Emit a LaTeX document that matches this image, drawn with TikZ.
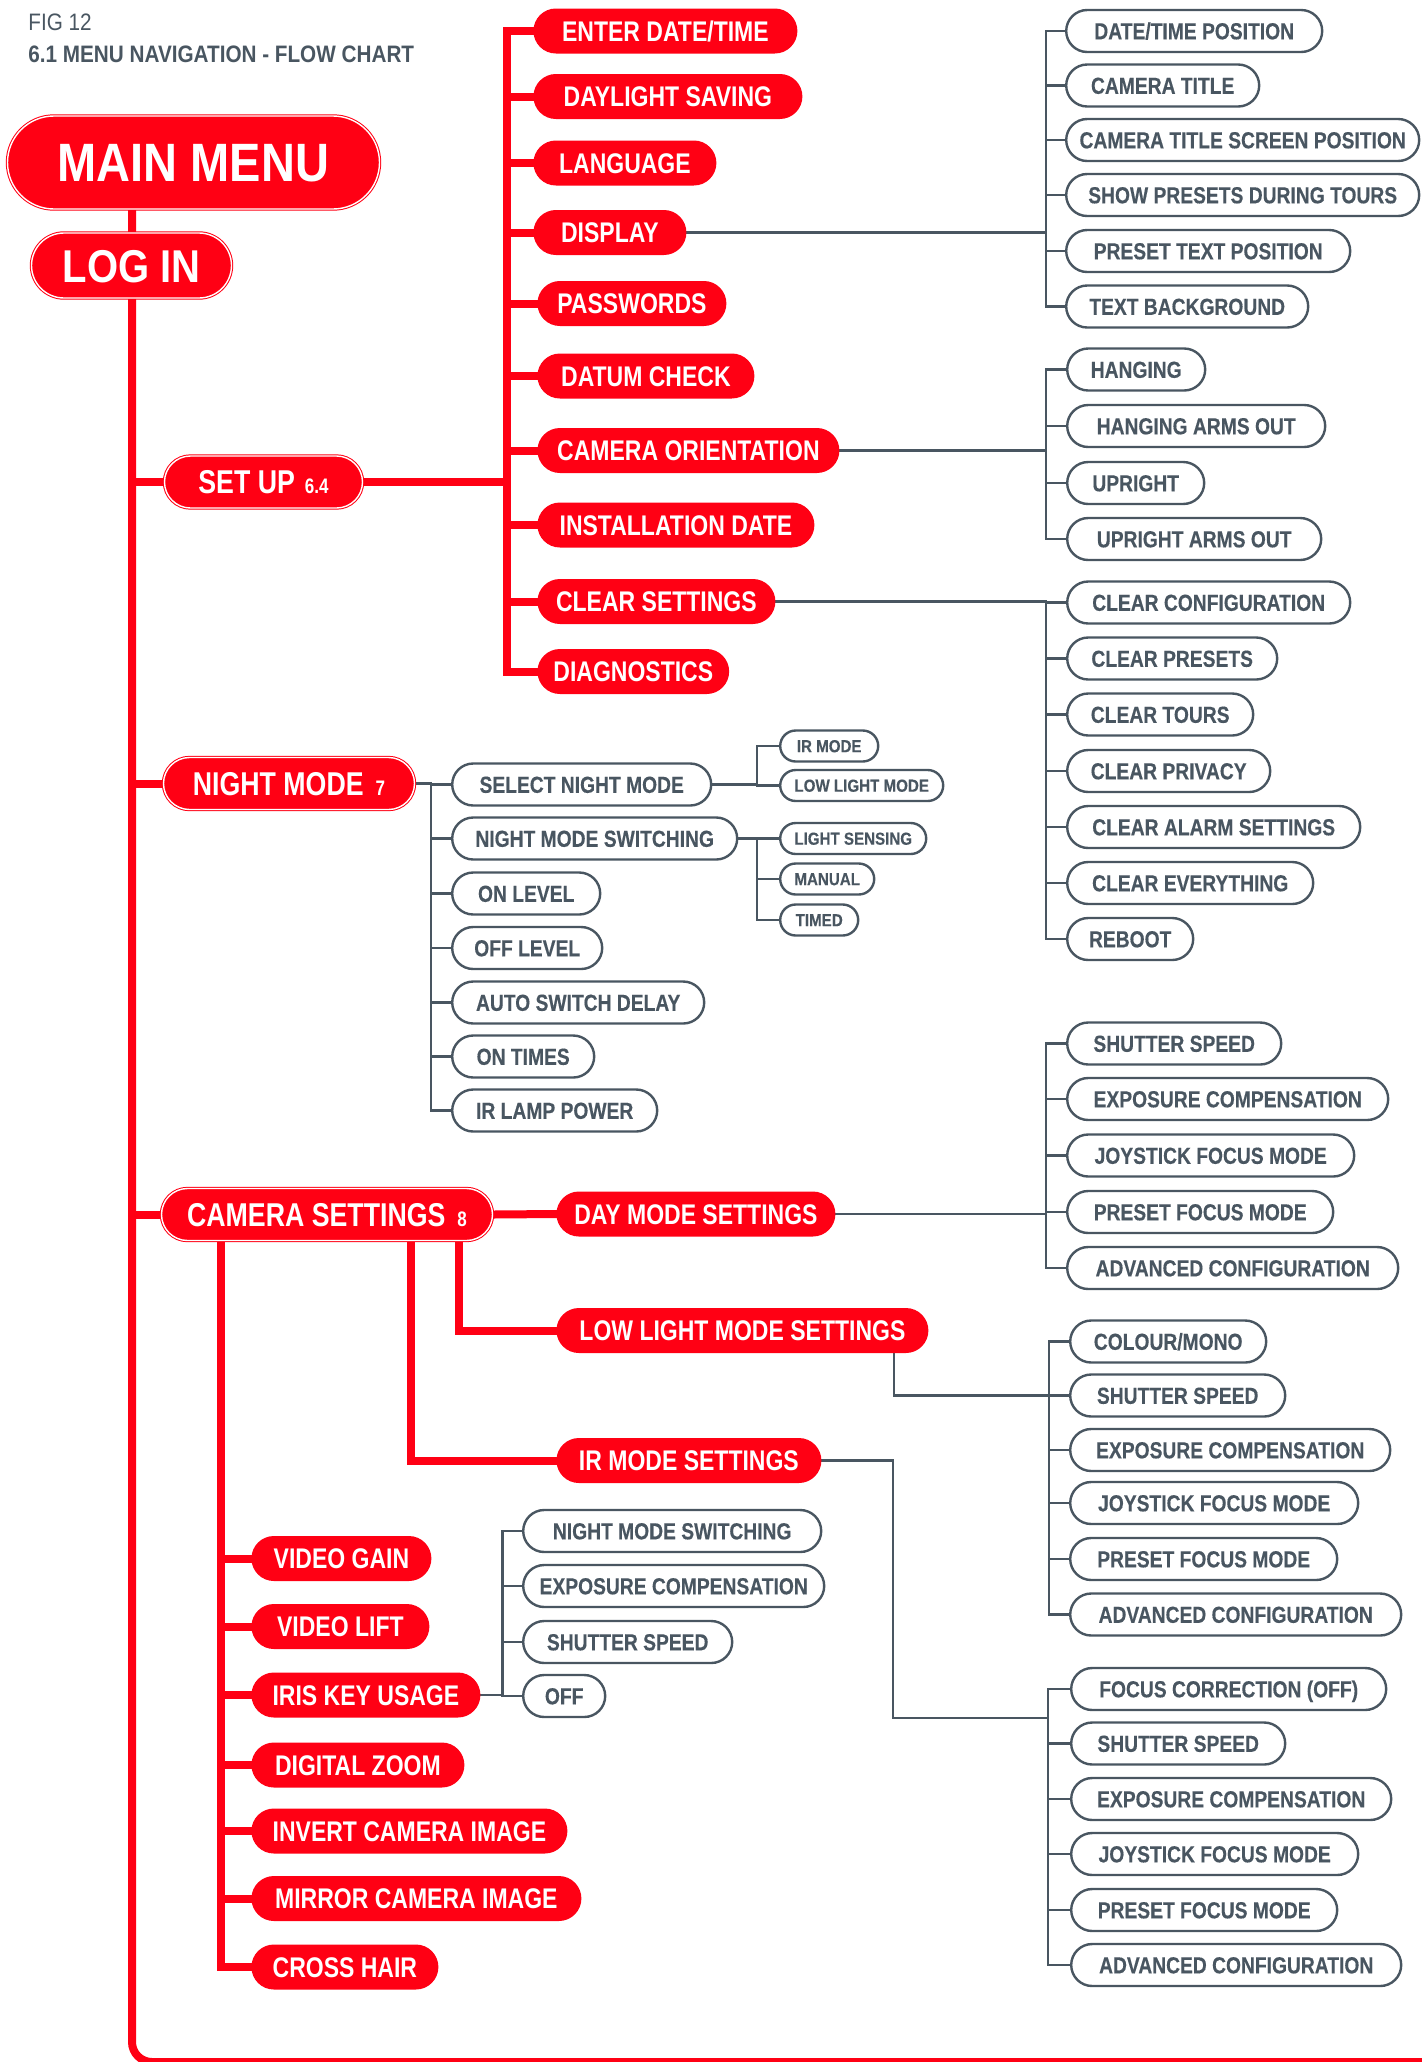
\documentclass[tikz,border=0pt]{standalone}
\usepackage{fontspec}
\usepackage{tikz}
\usepackage{xcolor}
\newfontfamily\pillfont[FakeStretch=0.81]{Liberation Sans}
\newfontfamily\bigfont[FakeStretch=0.87]{Liberation Sans}
\newfontfamily\grayfont[FakeStretch=0.83,FakeBold=0.3]{Liberation Sans}
\newfontfamily\tinyfont[FakeStretch=0.87,FakeBold=0.2]{Liberation Sans}
\newfontfamily\headfont[FakeStretch=0.87]{Liberation Sans}
\definecolor{menured}{RGB}{255,0,20}
\definecolor{menugray}{RGB}{73,86,97}
\pgfdeclarelayer{bg}
\pgfsetlayers{bg,main}

\begin{document}
\begin{tikzpicture}[x=0.5pt,y=0.5pt,yscale=-1,xscale=1,
  redline/.style={draw=menured,line width=4pt,line cap=rect},
  grayline/.style={draw=menugray,line width=1.2pt,line cap=rect},
  pill/.style={rectangle,anchor=west,inner xsep=8pt,inner ysep=0pt,text depth=0pt},
  mainpill/.style={pill,fill=menured,draw=menured,double=white,double distance=0.7pt,line width=0.5pt,text=white},
  headpill/.style={mainpill,minimum height=26pt,rounded corners=13pt,text height=11.8pt,font=\pillfont\bfseries\fontsize{16.5}{19}\selectfont},
  redpill/.style={pill,fill=menured,text=white,minimum height=22.5pt,rounded corners=11.25pt,text height=10.2pt,font=\pillfont\bfseries\fontsize{14.2}{16}\selectfont},
  graypill/.style={pill,inner xsep=6pt,fill=white,draw=menugray,line width=1.2pt,text=menugray,minimum height=21pt,rounded corners=10.5pt,text height=8.3pt,font=\grayfont\bfseries\fontsize{11.6}{13}\selectfont},
  smallpill/.style={graypill,inner xsep=5pt,minimum height=15.5pt,rounded corners=7.75pt,text height=6.2pt,font=\tinyfont\bfseries\fontsize{8.7}{10}\selectfont},
  headtext/.style={anchor=base west,inner sep=0pt,text=menugray,font=\headfont\fontsize{11.9}{14}\selectfont}
]
\useasboundingbox (0,0) rectangle (1422,2062);

% Text Node
\node (fignum) [headtext] at (28,30) {FIG 12};
% Text Node
\node (figtitle) [headtext,font=\headfont\bfseries\fontsize{11.9}{14}\selectfont] at (28,62) {6.1 MENU NAVIGATION - FLOW CHART};

%Shape: Main menu and log in
\node (mainmenu) [mainpill,minimum width=186pt,minimum height=46.5pt,rounded corners=23.25pt,text height=19.4pt,font=\bigfont\bfseries\fontsize{27}{30}\selectfont] at (7,162.5) {MAIN MENU};
\node (login) [mainpill,minimum width=100pt,minimum height=32.5pt,rounded corners=16.25pt,text height=16.5pt,font=\bigfont\bfseries\fontsize{23}{26}\selectfont] at (31,265.5) {LOG IN};

%Shape: Top level entries
\node (setup) [headpill,minimum width=99pt] at (164,482) {SET UP\hspace{5pt}{\fontsize{10.5}{12}\selectfont 6.4}};
\node (nightmode) [headpill,minimum width=125.5pt] at (163,783.5) {NIGHT MODE\hspace{6pt}{\fontsize{10.5}{12}\selectfont 7}};
\node (camsettings) [headpill,minimum width=165.5pt] at (161,1214.5) {CAMERA SETTINGS\hspace{6pt}{\fontsize{10.5}{12}\selectfont 8}};

%Shape: Set up entries
\node (enterdt) [redpill,minimum width=132pt] at (533,31) {ENTER DATE/TIME};
\node (daylight) [redpill,minimum width=134.5pt] at (533,96.5) {DAYLIGHT SAVING};
\node (language) [redpill,minimum width=91.5pt] at (533,163) {LANGUAGE};
\node (display) [redpill,minimum width=76.5pt] at (533,232.5) {DISPLAY};
\node (passwords) [redpill,minimum width=94.5pt] at (537,303.5) {PASSWORDS};
\node (datum) [redpill,minimum width=108.5pt] at (537,376) {DATUM CHECK};
\node (camorient) [redpill,minimum width=151pt] at (537,450.5) {CAMERA ORIENTATION};
\node (instdate) [redpill,minimum width=138.5pt] at (537,525) {INSTALLATION DATE};
\node (clearset) [redpill,minimum width=119pt] at (537,601.5) {CLEAR SETTINGS};
\node (diagnostics) [redpill,minimum width=94.5pt] at (537,671.5) {DIAGNOSTICS};

%Shape: Display entries
\node (d1) [graypill,minimum width=128pt] at (1065,31) {DATE/TIME POSITION};
\node (d2) [graypill,minimum width=96.5pt] at (1065,85.5) {CAMERA TITLE};
\node (d3) [graypill,minimum width=176.5pt] at (1065,140) {CAMERA TITLE SCREEN POSITION};
\node (d4) [graypill,minimum width=176.5pt] at (1065,195) {SHOW PRESETS DURING TOURS};
\node (d5) [graypill,minimum width=142pt] at (1065,251) {PRESET TEXT POSITION};
\node (d6) [graypill,minimum width=121pt] at (1065,306.5) {TEXT BACKGROUND};

%Shape: Orientation entries
\node (co1) [graypill,minimum width=69pt] at (1066,369.5) {HANGING};
\node (co2) [graypill,minimum width=129pt] at (1066,426) {HANGING ARMS OUT};
\node (co3) [graypill,minimum width=68.5pt] at (1066,483) {UPRIGHT};
\node (co4) [graypill,minimum width=127pt] at (1066,539) {UPRIGHT ARMS OUT};

%Shape: Clear settings entries
\node (c1) [graypill,minimum width=141.5pt] at (1066,602.5) {CLEAR CONFIGURATION};
\node (c2) [graypill,minimum width=105pt] at (1066,658.5) {CLEAR PRESETS};
\node (c3) [graypill,minimum width=93pt] at (1066,714.5) {CLEAR TOURS};
\node (c4) [graypill,minimum width=101.5pt] at (1066,771) {CLEAR PRIVACY};
\node (c5) [graypill,minimum width=146.5pt] at (1066,827) {CLEAR ALARM SETTINGS};
\node (c6) [graypill,minimum width=123pt] at (1066,883) {CLEAR EVERYTHING};
\node (c7) [graypill,minimum width=63pt] at (1066,939) {REBOOT};

%Shape: Night mode entries
\node (nm1) [graypill,minimum width=129.5pt] at (451,784.5) {SELECT NIGHT MODE};
\node (nm2) [graypill,minimum width=142.5pt] at (451,838.5) {NIGHT MODE SWITCHING};
\node (nm3) [graypill,minimum width=74pt] at (451,893.5) {ON LEVEL};
\node (nm4) [graypill,minimum width=75pt] at (451,948) {OFF LEVEL};
\node (nm5) [graypill,minimum width=126pt] at (451,1002.5) {AUTO SWITCH DELAY};
\node (nm6) [graypill,minimum width=71pt] at (451,1056.5) {ON TIMES};
\node (nm7) [graypill,minimum width=102.5pt] at (451,1110.5) {IR LAMP POWER};
\node (irm) [smallpill,minimum width=49pt] at (779,746) {IR MODE};
\node (llm) [smallpill,minimum width=81.5pt] at (779,785.5) {LOW LIGHT MODE};
\node (ls) [smallpill,minimum width=73pt] at (779,838.5) {LIGHT SENSING};
\node (man) [smallpill,minimum width=47pt] at (779,879) {MANUAL};
\node (tim) [smallpill,minimum width=39pt] at (779,920) {TIMED};

%Shape: Camera settings entries
\node (daymode) [redpill,minimum width=139.5pt] at (556,1214) {DAY MODE SETTINGS};
\node (lowlight) [redpill,minimum width=186pt] at (556,1330.5) {LOW LIGHT MODE SETTINGS};
\node (irmodeset) [redpill,minimum width=132.5pt] at (556,1460.5) {IR MODE SETTINGS};
\node (videogain) [redpill,minimum width=90pt] at (251,1558.5) {VIDEO GAIN};
\node (videolift) [redpill,minimum width=89pt] at (251,1626.5) {VIDEO LIFT};
\node (iriskey) [redpill,minimum width=114.5pt] at (251,1695) {IRIS KEY USAGE};
\node (digzoom) [redpill,minimum width=106.5pt] at (251,1765) {DIGITAL ZOOM};
\node (invert) [redpill,minimum width=158pt] at (251,1831) {INVERT CAMERA IMAGE};
\node (mirror) [redpill,minimum width=165pt] at (251,1898.5) {MIRROR CAMERA IMAGE};
\node (crosshair) [redpill,minimum width=93.5pt] at (251,1967) {CROSS HAIR};

%Shape: Iris key entries
\node (ik1) [graypill,minimum width=149pt] at (522,1531) {NIGHT MODE SWITCHING};
\node (ik2) [graypill,minimum width=150.5pt] at (522,1586) {EXPOSURE COMPENSATION};
\node (ik3) [graypill,minimum width=104.5pt] at (522,1642) {SHUTTER SPEED};
\node (ik4) [graypill,minimum width=41pt] at (522,1696) {OFF};

%Shape: Day mode entries
\node (dm1) [graypill,minimum width=107pt] at (1066,1043.5) {SHUTTER SPEED};
\node (dm2) [graypill,minimum width=160.5pt] at (1066,1099) {EXPOSURE COMPENSATION};
\node (dm3) [graypill,minimum width=143.5pt] at (1066,1155.5) {JOYSTICK FOCUS MODE};
\node (dm4) [graypill,minimum width=133pt] at (1066,1212) {PRESET FOCUS MODE};
\node (dm5) [graypill,minimum width=165.5pt] at (1066,1268) {ADVANCED CONFIGURATION};

%Shape: Low light entries
\node (ll1) [graypill,minimum width=98pt] at (1069,1341.5) {COLOUR/MONO};
\node (ll2) [graypill,minimum width=107.5pt] at (1069,1395.5) {SHUTTER SPEED};
\node (ll3) [graypill,minimum width=160pt] at (1069,1450) {EXPOSURE COMPENSATION};
\node (ll4) [graypill,minimum width=144pt] at (1069,1503) {JOYSTICK FOCUS MODE};
\node (ll5) [graypill,minimum width=133.5pt] at (1069,1559) {PRESET FOCUS MODE};
\node (ll6) [graypill,minimum width=165.5pt] at (1069,1614.5) {ADVANCED CONFIGURATION};

%Shape: IR mode entries
\node (ir1) [graypill,minimum width=157.5pt] at (1070,1689) {FOCUS CORRECTION (OFF)};
\node (ir2) [graypill,minimum width=107pt] at (1070,1743.5) {SHUTTER SPEED};
\node (ir3) [graypill,minimum width=160pt] at (1070,1799) {EXPOSURE COMPENSATION};
\node (ir4) [graypill,minimum width=143.5pt] at (1070,1854) {JOYSTICK FOCUS MODE};
\node (ir5) [graypill,minimum width=133pt] at (1070,1910) {PRESET FOCUS MODE};
\node (ir6) [graypill,minimum width=165pt] at (1070,1965) {ADVANCED CONFIGURATION};

% bus lines
\coordinate (trunkx) at (132,0);
\coordinate (trunkend) at (1440,2062);
\coordinate (setbus) at (507,0);
\coordinate (dispbus) at (1046,0);
\coordinate (orbus) at (1046,0);
\coordinate (clrbus) at (1046,0);
\coordinate (nmbus) at (431,0);
\coordinate (selbus) at (757,0);
\coordinate (cambus) at (221,0);
\coordinate (lowx) at (459,0);
\coordinate (irx) at (411,0);
\coordinate (ikbus) at (502.5,0);
\coordinate (dmbus) at (1046,0);
\coordinate (llx) at (894,0);
\coordinate (llbus) at (1049,0);
\coordinate (irturn) at (893,1718);
\coordinate (irbus) at (1048,0);

\begin{pgfonlayer}{bg}
%Straight Lines: trunk
\draw[redline,rounded corners=10pt] (mainmenu.south -| trunkx) |- (trunkend);
\draw[redline] (trunkx |- setup.west) -- (setup.west) (trunkx |- nightmode.west) -- (nightmode.west) (trunkx |- camsettings.west) -- (camsettings.west);
%Straight Lines: set up
\draw[redline] (setup.east) -- (setbus |- setup.east);
\draw[redline] (setbus |- enterdt) -- (setbus |- diagnostics);
\draw[redline] (setbus |- enterdt) -- (enterdt.west) (setbus |- daylight) -- (daylight.west) (setbus |- language) -- (language.west) (setbus |- display) -- (display.west) (setbus |- passwords) -- (passwords.west);
\draw[redline] (setbus |- datum) -- (datum.west) (setbus |- camorient) -- (camorient.west) (setbus |- instdate) -- (instdate.west) (setbus |- clearset) -- (clearset.west) (setbus |- diagnostics) -- (diagnostics.west);
%Straight Lines: display
\draw[grayline] (display.east) -- (dispbus |- display.east);
\draw[grayline] (dispbus |- d1) -- (dispbus |- d6);
\draw[grayline] (dispbus |- d1) -- (d1.west) (dispbus |- d2) -- (d2.west) (dispbus |- d3) -- (d3.west) (dispbus |- d4) -- (d4.west) (dispbus |- d5) -- (d5.west) (dispbus |- d6) -- (d6.west);
%Straight Lines: orientation
\draw[grayline] (camorient.east) -- (orbus |- camorient.east);
\draw[grayline] (orbus |- co1) -- (orbus |- co4);
\draw[grayline] (orbus |- co1) -- (co1.west) (orbus |- co2) -- (co2.west) (orbus |- co3) -- (co3.west) (orbus |- co4) -- (co4.west);
%Straight Lines: clear settings
\draw[grayline] (clearset.east) -- (clrbus |- clearset.east);
\draw[grayline] (clrbus |- c1) -- (clrbus |- c7);
\draw[grayline] (clrbus |- c1) -- (c1.west) (clrbus |- c2) -- (c2.west) (clrbus |- c3) -- (c3.west) (clrbus |- c4) -- (c4.west) (clrbus |- c5) -- (c5.west) (clrbus |- c6) -- (c6.west) (clrbus |- c7) -- (c7.west);
%Straight Lines: night mode
\draw[grayline] (nightmode.east) -- (nmbus |- nightmode.east);
\draw[grayline] (nmbus |- nm1) -- (nmbus |- nm7);
\draw[grayline] (nmbus |- nm1) -- (nm1.west) (nmbus |- nm2) -- (nm2.west) (nmbus |- nm3) -- (nm3.west) (nmbus |- nm4) -- (nm4.west) (nmbus |- nm5) -- (nm5.west) (nmbus |- nm6) -- (nm6.west) (nmbus |- nm7) -- (nm7.west);
\draw[grayline] (nm1.east) -- (selbus |- nm1.east);
\draw[grayline] (selbus |- irm) -- (selbus |- llm);
\draw[grayline] (selbus |- irm) -- (irm.west) (selbus |- llm) -- (llm.west);
\draw[grayline] (nm2.east) -- (selbus |- nm2.east);
\draw[grayline] (selbus |- ls) -- (selbus |- tim);
\draw[grayline] (selbus |- ls) -- (ls.west) (selbus |- man) -- (man.west) (selbus |- tim) -- (tim.west);
%Straight Lines: camera settings
\draw[redline] (camsettings.east) -- (daymode.west);
\draw[redline] (camsettings.south -| lowx) |- (lowlight.west);
\draw[redline] (camsettings.south -| irx) |- (irmodeset.west);
\draw[redline] (camsettings.south -| cambus) |- (crosshair.west);
\draw[redline] (cambus |- videogain) -- (videogain.west) (cambus |- videolift) -- (videolift.west) (cambus |- iriskey) -- (iriskey.west) (cambus |- digzoom) -- (digzoom.west) (cambus |- invert) -- (invert.west) (cambus |- mirror) -- (mirror.west);
%Straight Lines: iris key
\draw[grayline] (iriskey.east) -- (ikbus |- iriskey.east);
\draw[grayline] (ikbus |- ik1) -- (ikbus |- ik4);
\draw[grayline] (ikbus |- ik1) -- (ik1.west) (ikbus |- ik2) -- (ik2.west) (ikbus |- ik3) -- (ik3.west) (ikbus |- ik4) -- (ik4.west);
%Straight Lines: day mode
\draw[grayline] (daymode.east) -- (dmbus |- daymode.east);
\draw[grayline] (dmbus |- dm1) -- (dmbus |- dm5);
\draw[grayline] (dmbus |- dm1) -- (dm1.west) (dmbus |- dm2) -- (dm2.west) (dmbus |- dm3) -- (dm3.west) (dmbus |- dm4) -- (dm4.west) (dmbus |- dm5) -- (dm5.west);
%Straight Lines: low light
\draw[grayline] (lowlight.south -| llx) |- (llbus |- ll2);
\draw[grayline] (llbus |- ll1) -- (llbus |- ll6);
\draw[grayline] (llbus |- ll1) -- (ll1.west) (llbus |- ll2) -- (ll2.west) (llbus |- ll3) -- (ll3.west) (llbus |- ll4) -- (ll4.west) (llbus |- ll5) -- (ll5.west) (llbus |- ll6) -- (ll6.west);
%Straight Lines: ir mode
\draw[grayline] (irmodeset.east) -| (irturn) -- (irturn -| irbus);
\draw[grayline] (irbus |- ir1) -- (irbus |- ir6);
\draw[grayline] (irbus |- ir1) -- (ir1.west) (irbus |- ir2) -- (ir2.west) (irbus |- ir3) -- (ir3.west) (irbus |- ir4) -- (ir4.west) (irbus |- ir5) -- (ir5.west) (irbus |- ir6) -- (ir6.west);
\end{pgfonlayer}

\end{tikzpicture}
\end{document}
